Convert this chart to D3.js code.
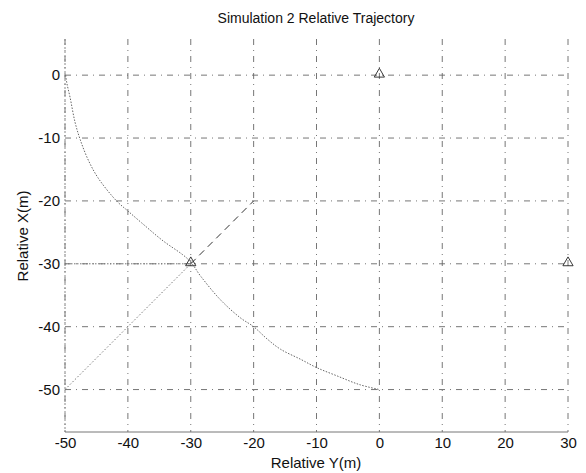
<!DOCTYPE html>
<html><head><meta charset="utf-8">
<script src="https://cdn.jsdelivr.net/npm/d3@7"></script>
<style>
body{margin:0;background:#fff;}
text{font-family:"Liberation Sans",Arial,sans-serif;fill:#111;}
</style></head>
<body><svg id="c" width="586" height="473"></svg>
<script>
// Data (Relative Y, Relative X)
const xTicks = [-50,-40,-30,-20,-10,0,10,20,30];
const yTicks = [-50,-40,-30,-20,-10,0];
const arcY = [-49.9,-49.7,-49.2,-48.4,-47.6,-46.3,-44.7,-41.8,-40,-37.8,-34.6,-30.3,-28.4,-25.3,-22.1,-20,-17.8,-15.7,-12.5,-10,-6.8,-3.2,0];
const arcX = [0,-1.3,-3.5,-7.5,-10.2,-13.5,-16.4,-20,-21.6,-23.5,-26.2,-29.4,-32,-35.7,-38.6,-40,-42,-43.6,-45.2,-46.5,-47.8,-49.2,-50];
const diagY = [-50,-30];
const diagX = [-50,-30];
const dashY = [-30,-20];
const dashX = [-30,-20];
const horizY = [-50,-30];
const horizX = [-30,-30];
const markerY = [0,-30,30];
const markerX = [0,-30,-30];

const svg = d3.select("#c");
const L=65, R=568, T=39, B=432;
const x = d3.scaleLinear().domain([-50,30]).range([L,R]);
const y = d3.scaleLinear().domain([-56.75,5.75]).range([B,T]);

// grid
const g = svg.append("g");
g.selectAll(".vg").data(xTicks).enter().append("line")
  .attr("x1",d=>x(d)).attr("x2",d=>x(d)).attr("y1",T).attr("y2",B)
  .attr("stroke","#666").attr("stroke-width",0.9).attr("stroke-dasharray","6,5,1,5");
g.selectAll(".hg").data(yTicks).enter().append("line")
  .attr("y1",d=>y(d)).attr("y2",d=>y(d)).attr("x1",L).attr("x2",R)
  .attr("stroke","#666").attr("stroke-width",0.9).attr("stroke-dasharray","6,5,1,5");

// axes lines (left and bottom)
svg.append("line").attr("x1",L).attr("x2",L).attr("y1",T).attr("y2",B)
  .attr("stroke","#888").attr("stroke-width",1).attr("stroke-dasharray","2,2");
svg.append("line").attr("x1",L).attr("x2",R).attr("y1",B).attr("y2",B)
  .attr("stroke","#777").attr("stroke-width",1);

// axes labels
const fmt = d => String(d);
const xa = svg.append("g").attr("transform",`translate(0,${B})`)
  .call(d3.axisBottom(x).tickValues(xTicks).tickSize(0).tickPadding(5).tickFormat(fmt));
xa.select(".domain").remove();
const ya = svg.append("g").attr("transform",`translate(${L},0)`)
  .call(d3.axisLeft(y).tickValues(yTicks).tickSize(0).tickPadding(5).tickFormat(fmt));
ya.select(".domain").remove();
svg.selectAll(".tick text").attr("font-size",15).attr("fill","#111")
  .attr("font-family","'Liberation Sans',Arial,sans-serif");

// series
const zip=(a,b)=>a.map((v,i)=>[v,b[i]]);
const cline = d3.line().x(d=>x(d[0])).y(d=>y(d[1])).curve(d3.curveCatmullRom);
svg.append("path").datum(zip(arcY,arcX)).attr("d",cline)
  .attr("fill","none").attr("stroke","#666").attr("stroke-width",1).attr("stroke-dasharray","1.5,1.5");
const sline = d3.line().x(d=>x(d[0])).y(d=>y(d[1]));
svg.append("path").datum(zip(diagY,diagX)).attr("d",sline)
  .attr("fill","none").attr("stroke","#777").attr("stroke-width",1).attr("stroke-dasharray","1.5,2");
svg.append("path").datum(zip(horizY,horizX)).attr("d",sline)
  .attr("fill","none").attr("stroke","#777").attr("stroke-width",1).attr("stroke-dasharray","1.5,1.5");
svg.append("path").datum(zip(dashY,dashX)).attr("d",sline)
  .attr("fill","none").attr("stroke","#333").attr("stroke-width",1).attr("stroke-dasharray","7,5");

// markers
const tri = d3.symbol().type(d3.symbolTriangle).size(45);
svg.selectAll(".m").data(zip(markerY,markerX)).enter().append("path")
  .attr("d",tri).attr("transform",d=>`translate(${x(d[0])},${y(d[1])-1})`)
  .attr("fill","none").attr("stroke","#222").attr("stroke-width",0.9);

// titles
svg.append("text").attr("x",316).attr("y",23).attr("text-anchor","middle")
  .attr("font-size",14).text("Simulation 2 Relative Trajectory");
svg.append("text").attr("x",316).attr("y",468).attr("text-anchor","middle")
  .attr("font-size",15).text("Relative Y(m)");
svg.append("text").attr("transform","translate(28,236) rotate(-90)").attr("text-anchor","middle")
  .attr("font-size",15).text("Relative X(m)");
</script></body></html>
